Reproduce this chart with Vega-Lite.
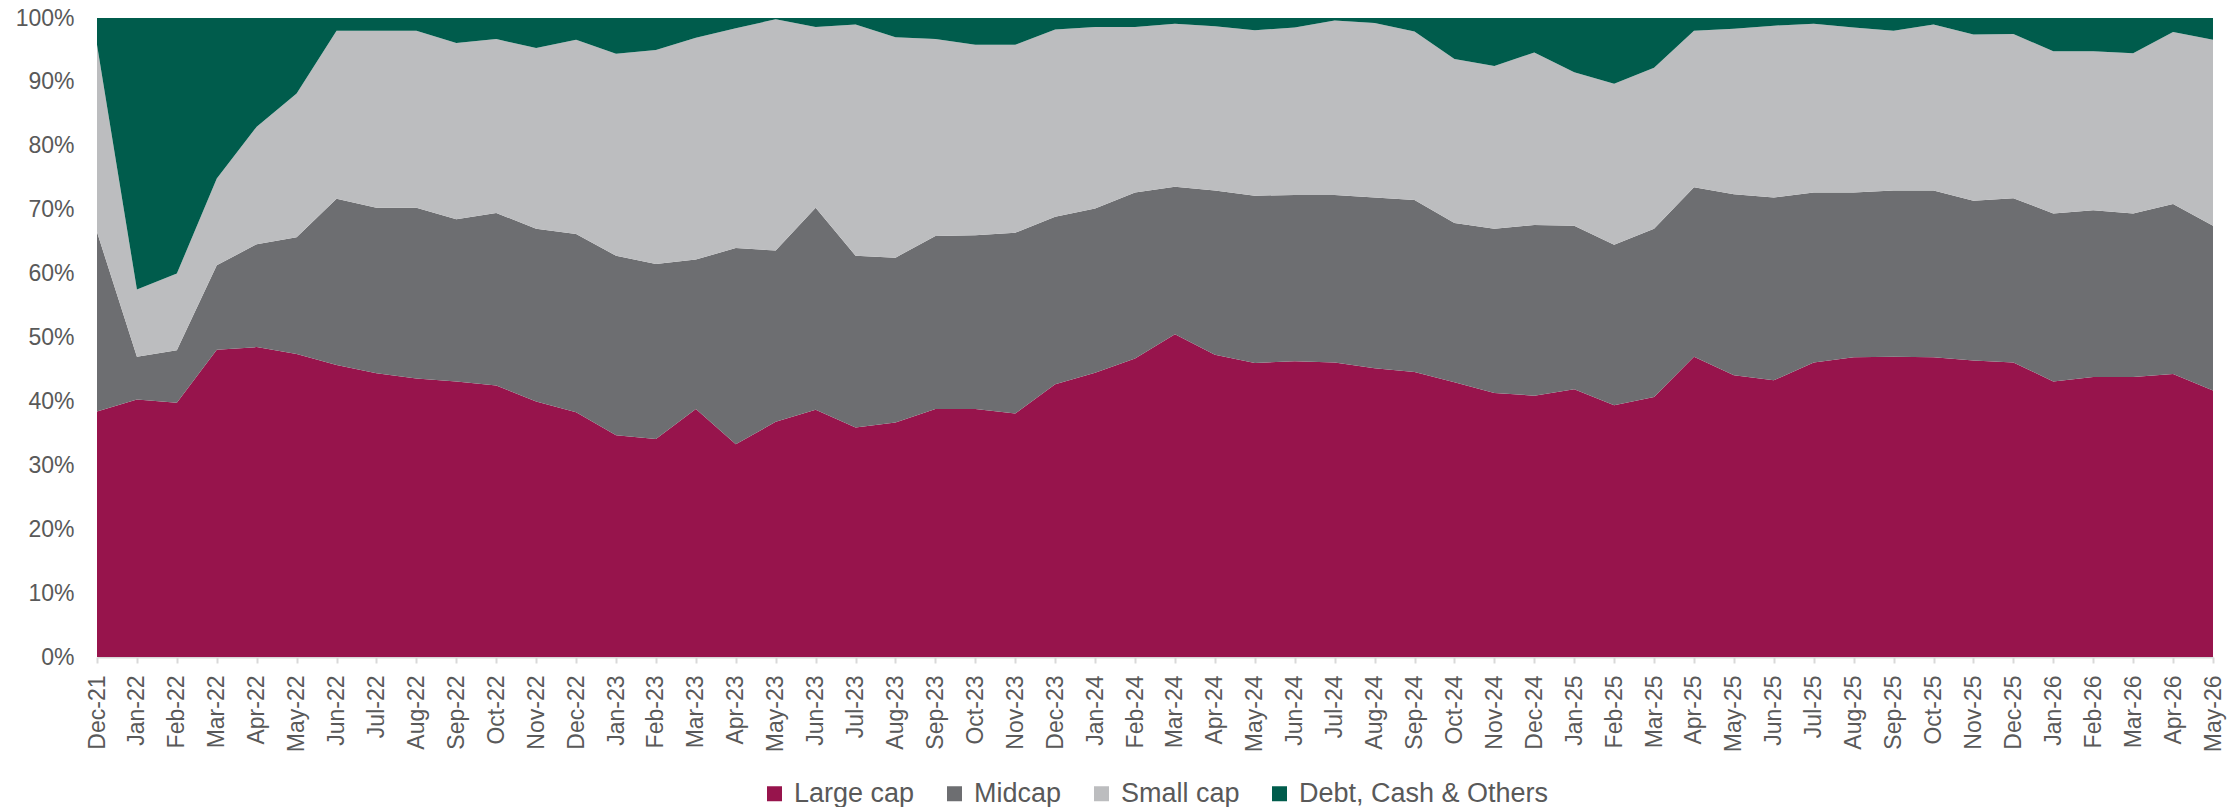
{
  "$schema": "https://vega.github.io/schema/vega-lite/v6.json",
  "autosize": {"type": "none"},
  "padding": {"left": 97, "top": 18, "right": 26, "bottom": 151},
  "width": 2116,
  "height": 639,
  "background": "white",
  "config": {
    "view": {"stroke": null},
    "font": "Liberation Sans",
    "legend": {"layout": {"bottom": {"anchor": "middle"}}}
  },
  "data": {"values": [
    {"month": "Dec-21", "Large cap": 38.4, "Midcap": 28.1, "Small cap": 29.3, "Debt, Cash & Others": 4.2},
    {"month": "Jan-22", "Large cap": 40.3, "Midcap": 6.7, "Small cap": 10.5, "Debt, Cash & Others": 42.5},
    {"month": "Feb-22", "Large cap": 39.8, "Midcap": 8.2, "Small cap": 12.0, "Debt, Cash & Others": 40.0},
    {"month": "Mar-22", "Large cap": 48.1, "Midcap": 13.2, "Small cap": 13.6, "Debt, Cash & Others": 25.1},
    {"month": "Apr-22", "Large cap": 48.5, "Midcap": 16.1, "Small cap": 18.4, "Debt, Cash & Others": 17.0},
    {"month": "May-22", "Large cap": 47.4, "Midcap": 18.3, "Small cap": 22.5, "Debt, Cash & Others": 11.8},
    {"month": "Jun-22", "Large cap": 45.7, "Midcap": 26.0, "Small cap": 26.3, "Debt, Cash & Others": 2.0},
    {"month": "Jul-22", "Large cap": 44.4, "Midcap": 25.9, "Small cap": 27.7, "Debt, Cash & Others": 2.0},
    {"month": "Aug-22", "Large cap": 43.6, "Midcap": 26.7, "Small cap": 27.7, "Debt, Cash & Others": 2.0},
    {"month": "Sep-22", "Large cap": 43.1, "Midcap": 25.4, "Small cap": 27.6, "Debt, Cash & Others": 3.9},
    {"month": "Oct-22", "Large cap": 42.5, "Midcap": 27.0, "Small cap": 27.2, "Debt, Cash & Others": 3.3},
    {"month": "Nov-22", "Large cap": 40.0, "Midcap": 27.0, "Small cap": 28.3, "Debt, Cash & Others": 4.7},
    {"month": "Dec-22", "Large cap": 38.3, "Midcap": 27.9, "Small cap": 30.4, "Debt, Cash & Others": 3.4},
    {"month": "Jan-23", "Large cap": 34.7, "Midcap": 28.1, "Small cap": 31.6, "Debt, Cash & Others": 5.6},
    {"month": "Feb-23", "Large cap": 34.1, "Midcap": 27.4, "Small cap": 33.5, "Debt, Cash & Others": 5.0},
    {"month": "Mar-23", "Large cap": 38.8, "Midcap": 23.4, "Small cap": 34.7, "Debt, Cash & Others": 3.1},
    {"month": "Apr-23", "Large cap": 33.3, "Midcap": 30.7, "Small cap": 34.4, "Debt, Cash & Others": 1.6},
    {"month": "May-23", "Large cap": 36.8, "Midcap": 26.8, "Small cap": 36.2, "Debt, Cash & Others": 0.2},
    {"month": "Jun-23", "Large cap": 38.7, "Midcap": 31.6, "Small cap": 28.3, "Debt, Cash & Others": 1.4},
    {"month": "Jul-23", "Large cap": 35.9, "Midcap": 26.9, "Small cap": 36.2, "Debt, Cash & Others": 1.0},
    {"month": "Aug-23", "Large cap": 36.7, "Midcap": 25.8, "Small cap": 34.5, "Debt, Cash & Others": 3.0},
    {"month": "Sep-23", "Large cap": 38.8, "Midcap": 27.1, "Small cap": 30.8, "Debt, Cash & Others": 3.3},
    {"month": "Oct-23", "Large cap": 38.8, "Midcap": 27.2, "Small cap": 29.8, "Debt, Cash & Others": 4.2},
    {"month": "Nov-23", "Large cap": 38.1, "Midcap": 28.3, "Small cap": 29.4, "Debt, Cash & Others": 4.2},
    {"month": "Dec-23", "Large cap": 42.7, "Midcap": 26.2, "Small cap": 29.3, "Debt, Cash & Others": 1.8},
    {"month": "Jan-24", "Large cap": 44.5, "Midcap": 25.7, "Small cap": 28.4, "Debt, Cash & Others": 1.4},
    {"month": "Feb-24", "Large cap": 46.7, "Midcap": 26.0, "Small cap": 25.9, "Debt, Cash & Others": 1.4},
    {"month": "Mar-24", "Large cap": 50.5, "Midcap": 23.1, "Small cap": 25.5, "Debt, Cash & Others": 0.9},
    {"month": "Apr-24", "Large cap": 47.3, "Midcap": 25.7, "Small cap": 25.7, "Debt, Cash & Others": 1.3},
    {"month": "May-24", "Large cap": 46.0, "Midcap": 26.2, "Small cap": 25.9, "Debt, Cash & Others": 1.9},
    {"month": "Jun-24", "Large cap": 46.3, "Midcap": 26.0, "Small cap": 26.2, "Debt, Cash & Others": 1.5},
    {"month": "Jul-24", "Large cap": 46.1, "Midcap": 26.2, "Small cap": 27.3, "Debt, Cash & Others": 0.4},
    {"month": "Aug-24", "Large cap": 45.2, "Midcap": 26.7, "Small cap": 27.3, "Debt, Cash & Others": 0.8},
    {"month": "Sep-24", "Large cap": 44.6, "Midcap": 26.9, "Small cap": 26.4, "Debt, Cash & Others": 2.1},
    {"month": "Oct-24", "Large cap": 43.0, "Midcap": 24.9, "Small cap": 25.7, "Debt, Cash & Others": 6.4},
    {"month": "Nov-24", "Large cap": 41.3, "Midcap": 25.7, "Small cap": 25.5, "Debt, Cash & Others": 7.5},
    {"month": "Dec-24", "Large cap": 40.9, "Midcap": 26.7, "Small cap": 27.0, "Debt, Cash & Others": 5.4},
    {"month": "Jan-25", "Large cap": 41.9, "Midcap": 25.6, "Small cap": 24.0, "Debt, Cash & Others": 8.5},
    {"month": "Feb-25", "Large cap": 39.4, "Midcap": 25.1, "Small cap": 25.2, "Debt, Cash & Others": 10.3},
    {"month": "Mar-25", "Large cap": 40.7, "Midcap": 26.3, "Small cap": 25.2, "Debt, Cash & Others": 7.8},
    {"month": "Apr-25", "Large cap": 47.0, "Midcap": 26.5, "Small cap": 24.5, "Debt, Cash & Others": 2.0},
    {"month": "May-25", "Large cap": 44.1, "Midcap": 28.3, "Small cap": 25.9, "Debt, Cash & Others": 1.7},
    {"month": "Jun-25", "Large cap": 43.3, "Midcap": 28.6, "Small cap": 26.9, "Debt, Cash & Others": 1.2},
    {"month": "Jul-25", "Large cap": 46.1, "Midcap": 26.6, "Small cap": 26.4, "Debt, Cash & Others": 0.9},
    {"month": "Aug-25", "Large cap": 46.9, "Midcap": 25.8, "Small cap": 25.8, "Debt, Cash & Others": 1.5},
    {"month": "Sep-25", "Large cap": 47.0, "Midcap": 26.0, "Small cap": 25.0, "Debt, Cash & Others": 2.0},
    {"month": "Oct-25", "Large cap": 46.9, "Midcap": 26.1, "Small cap": 26.0, "Debt, Cash & Others": 1.0},
    {"month": "Nov-25", "Large cap": 46.4, "Midcap": 25.0, "Small cap": 26.0, "Debt, Cash & Others": 2.6},
    {"month": "Dec-25", "Large cap": 46.1, "Midcap": 25.7, "Small cap": 25.7, "Debt, Cash & Others": 2.5},
    {"month": "Jan-26", "Large cap": 43.1, "Midcap": 26.3, "Small cap": 25.4, "Debt, Cash & Others": 5.2},
    {"month": "Feb-26", "Large cap": 43.8, "Midcap": 26.1, "Small cap": 24.9, "Debt, Cash & Others": 5.2},
    {"month": "Mar-26", "Large cap": 43.8, "Midcap": 25.6, "Small cap": 25.1, "Debt, Cash & Others": 5.5},
    {"month": "Apr-26", "Large cap": 44.3, "Midcap": 26.6, "Small cap": 26.9, "Debt, Cash & Others": 2.2},
    {"month": "May-26", "Large cap": 41.7, "Midcap": 25.8, "Small cap": 29.1, "Debt, Cash & Others": 3.4}
  ]},
  "transform": [
    {"fold": ["Large cap", "Midcap", "Small cap", "Debt, Cash & Others"], "as": ["category", "share"]},
    {"calculate": "indexof(['Large cap', 'Midcap', 'Small cap', 'Debt, Cash & Others'], datum.category)", "as": "stackRank"}
  ],
  "mark": {"type": "area", "interpolate": "linear"},
  "encoding": {
    "x": {
      "field": "month",
      "type": "ordinal",
      "sort": null,
      "scale": {"type": "point", "padding": 0},
      "axis": {
        "title": null,
        "labelAngle": -90,
        "labelFontSize": 23,
        "labelColor": "#595959",
        "labelPadding": 12,
        "tickSize": 6,
        "tickColor": "#D9D9D9",
        "tickWidth": 2,
        "domainColor": "#D9D9D9",
        "domainWidth": 2,
        "grid": false
      }
    },
    "y": {
      "field": "share",
      "type": "quantitative",
      "stack": "normalize",
      "scale": {"domain": [0, 1], "nice": false},
      "axis": {
        "title": null,
        "format": ".0%",
        "values": [0, 0.1, 0.2, 0.3, 0.4, 0.5, 0.6, 0.7, 0.8, 0.9, 1],
        "labelFontSize": 23,
        "labelColor": "#595959",
        "labelPadding": 23,
        "ticks": false,
        "domain": false,
        "grid": false
      }
    },
    "order": {"field": "stackRank", "type": "quantitative", "sort": "ascending"},
    "color": {
      "field": "category",
      "type": "nominal",
      "sort": ["Large cap", "Midcap", "Small cap", "Debt, Cash & Others"],
      "scale": {
        "domain": ["Large cap", "Midcap", "Small cap", "Debt, Cash & Others"],
        "range": ["#97144C", "#6D6E71", "#BCBDBF", "#005C4C"]
      },
      "legend": {
        "title": null,
        "orient": "bottom",
        "direction": "horizontal",
        "symbolType": "square",
        "symbolSize": 225,
        "symbolStrokeWidth": 0,
        "symbolOpacity": 1,
        "labelFontSize": 27,
        "labelLimit": 500,
        "labelColor": "#595959",
        "labelOffset": 6,
        "columnPadding": 26,
        "offset": 28
      }
    }
  }
}
